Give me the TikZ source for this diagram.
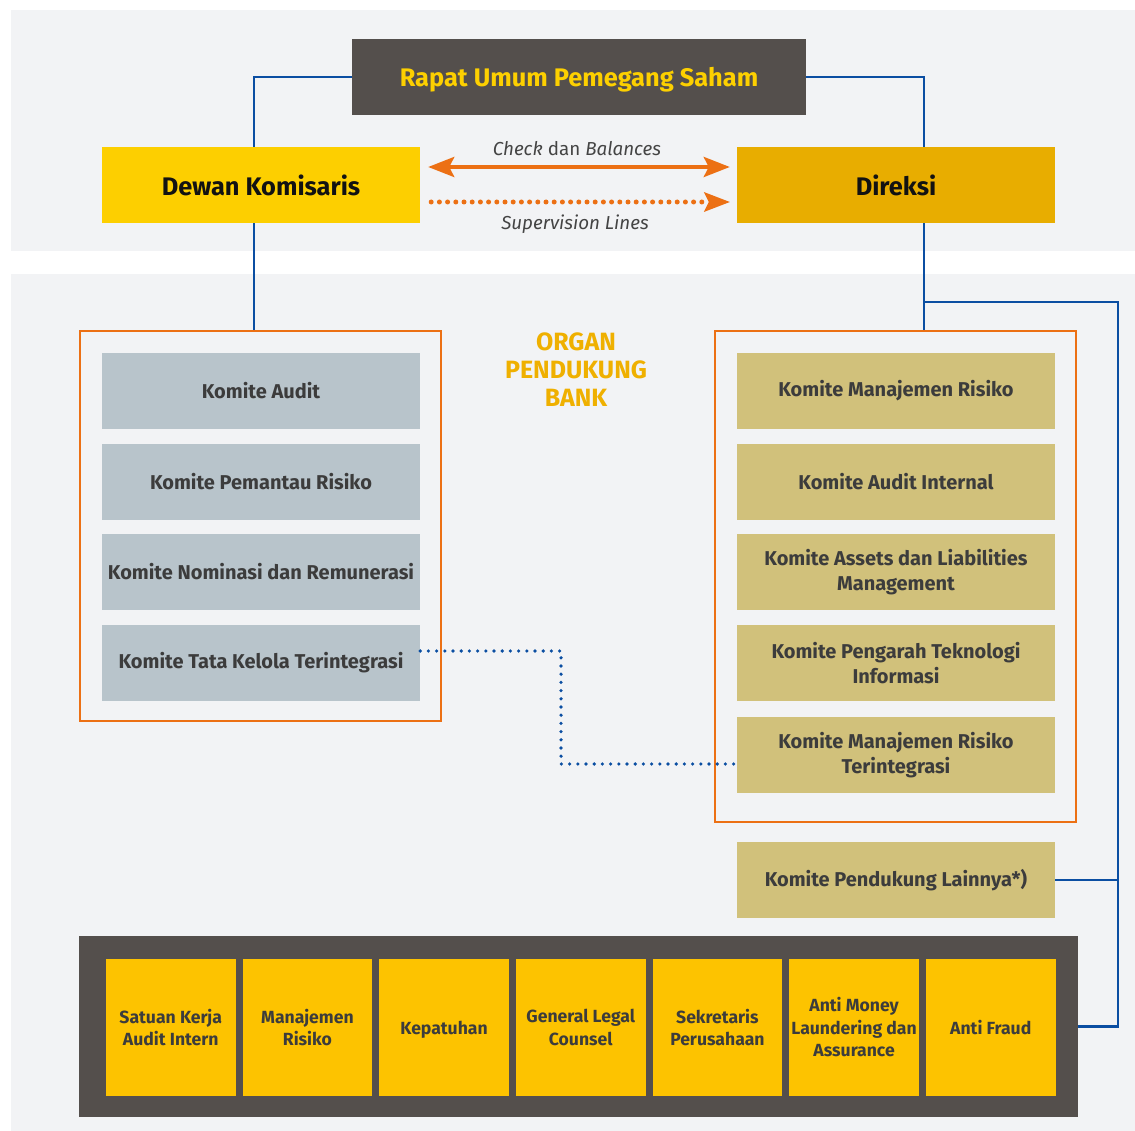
\documentclass[tikz,border=0pt]{standalone}
\usepackage{fontspec}
\setmainfont{Fira Sans}
\usetikzlibrary{arrows.meta}
\definecolor{panel}{HTML}{F2F3F5}
\definecolor{rupsfill}{HTML}{544F4C}
\definecolor{rupstext}{HTML}{FDD000}
\definecolor{dewanfill}{HTML}{FDCF00}
\definecolor{direksifill}{HTML}{E8AD00}
\definecolor{orgorange}{HTML}{EC7014}
\definecolor{orgblue}{HTML}{0B4EA2}
\definecolor{graybox}{HTML}{B8C4CB}
\definecolor{tanbox}{HTML}{D1C17B}
\definecolor{unitbox}{HTML}{FDC300}
\definecolor{textdark}{HTML}{3C3C3C}
\definecolor{organtext}{HTML}{EFB000}
\definecolor{labeltext}{HTML}{444444}
\begin{document}
\begin{tikzpicture}[x=1pt,y=-1pt,
  boxbase/.style={rectangle, inner sep=2pt, align=center, text=textdark},
  combox/.style={boxbase, minimum width=318pt, minimum height=76pt,
    font=\fontsize{20}{25}\selectfont\bfseries},
  lbox/.style={combox, fill=graybox},
  rbox/.style={combox, fill=tanbox},
  ubox/.style={boxbase, fill=unitbox, minimum width=129.5pt, minimum height=137pt,
    font=\fontsize{17.6}{22.5}\selectfont\bfseries},
  topbox/.style={rectangle, inner sep=2pt, minimum width=318pt, minimum height=76pt,
    font=\fontsize{25.4}{28}\selectfont\bfseries, text=black!93},
  orgframe/.style={rectangle, draw=orgorange, line width=2.8pt, inner sep=0pt},
  blueline/.style={draw=orgblue, line width=2.6pt},
  bluedots/.style={draw=orgblue, line width=3.6pt, line cap=round, dash pattern=on 0pt off 8.2pt},
  arrlabel/.style={font=\fontsize{18.8}{22}\selectfont, text=labeltext, inner sep=0pt}
]
\useasboundingbox (0,0) rectangle (1135,1131);
\fill[white] (0,0) rectangle (1135,1131);
\fill[panel] (11,10) rectangle (1135,251);
\fill[panel] (11,274) rectangle (1135,1131);

% top level
\node[rectangle, fill=rupsfill, minimum width=454pt, minimum height=76pt, inner sep=0pt,
  text depth=0pt, font=\fontsize{25.4}{28}\selectfont\bfseries, text=rupstext] (rups) at (579,77) {Rapat Umum Pemegang Saham};
\node[topbox, fill=dewanfill] (dewan) at (261,185) {Dewan Komisaris};
\node[topbox, fill=direksifill] (direksi) at (896,185) {Direksi};

% frames
\node[orgframe, minimum width=361pt, minimum height=390pt] (lframe) at (260.5,526) {};
\node[orgframe, minimum width=361pt, minimum height=491pt] (rframe) at (895.5,576.5) {};

% organ label
\node[align=center, text=organtext, font=\fontsize{25}{28}\selectfont\bfseries] (organ) at (576,369.5) {ORGAN\\PENDUKUNG\\BANK};

% left committees
\node[lbox] (kaudit) at (261,391) {Komite Audit};
\node[lbox] (kpr) at (261,482) {Komite Pemantau Risiko};
\node[lbox] (knr) at (261,572) {Komite Nominasi dan Remunerasi};
\node[lbox] (ktk) at (261,663) {Komite Tata Kelola Terintegrasi};

% right committees
\node[rbox] (kmr) at (896,391) {Komite Manajemen Risiko};
\node[rbox] (kai) at (896,482) {Komite Audit Internal};
\node[rbox] (kalm) at (896,572) {Komite Assets dan Liabilities\\Management};
\node[rbox] (kpti) at (896,663) {Komite Pengarah Teknologi\\Informasi};
\node[rbox] (kmrt) at (896,755) {Komite Manajemen Risiko\\Terintegrasi};
\node[rbox] (klain) at (896,880) {Komite Pendukung Lainnya*)};

% bottom units
\node[rectangle, fill=rupsfill, minimum width=999pt, minimum height=181pt, inner sep=0pt] (units) at (578.5,1026.5) {};
\node[ubox] (u1) at (170.75,1027.5) {Satuan Kerja\\Audit Intern};
\node[ubox] (u2) at (307.42,1027.5) {Manajemen\\Risiko};
\node[ubox, text depth=0pt] (u3) at (444.08,1027.5) {Kepatuhan};
\node[ubox] (u4) at (580.75,1027.5) {General Legal\\Counsel};
\node[ubox] (u5) at (717.42,1027.5) {Sekretaris\\Perusahaan};
\node[ubox] (u6) at (854.08,1027.5) {Anti Money\\Laundering dan\\Assurance};
\node[ubox] (u7) at (990.75,1027.5) {Anti Fraud};

% blue connectors
\coordinate (lx) at (254,0);
\coordinate (rx) at (924,0);
\draw[blueline] (rups.west) -- (rups.west -| lx) -- (lx |- dewan.north);
\draw[blueline] (rups.east) -- (rups.east -| rx) -- (rx |- direksi.north);
\draw[blueline] (lx |- dewan.south) -- (lx |- lframe.north);
\draw[blueline] (rx |- direksi.south) -- (rx |- rframe.north);
\coordinate (j1) at (924,302);
\coordinate (j2) at (1118,302);
\draw[blueline] (j1) -- (j2) -- (j2 |- units.east) -- (units.east);
\draw[blueline] (klain.east) -- (klain.east -| j2);

% dotted link
\coordinate (d1) at (561,651);
\coordinate (d2) at (561,764);
\draw[bluedots] (ktk.east |- d1) -- (d1) -- (d2) -- (kmrt.west |- d2);

% orange arrows
\draw[orgorange, line width=4pt, {Stealth[length=26pt,width=20pt,inset=5pt]}-{Stealth[length=26pt,width=20pt,inset=5pt]}]
  ([xshift=8pt,yshift=18pt]dewan.east) -- ([xshift=-7pt,yshift=18pt]direksi.west);
\draw[orgorange, line width=5pt, line cap=round, dash pattern=on 0pt off 8.2pt]
  ([xshift=11pt,yshift=-17pt]dewan.east) -- ([xshift=-30pt,yshift=-17pt]direksi.west);
\fill[orgorange] ([xshift=-7pt,yshift=-17pt]direksi.west) -- ++(-26,-10) -- ++(5,10) -- ++(-5,10) -- cycle;
\node[arrlabel] (cb) at (577,148.5) {\textit{Check} dan \textit{Balances}};
\node[arrlabel] (sl) at (575,224.5) {\textit{Supervision Lines}};
\end{tikzpicture}
\end{document}
